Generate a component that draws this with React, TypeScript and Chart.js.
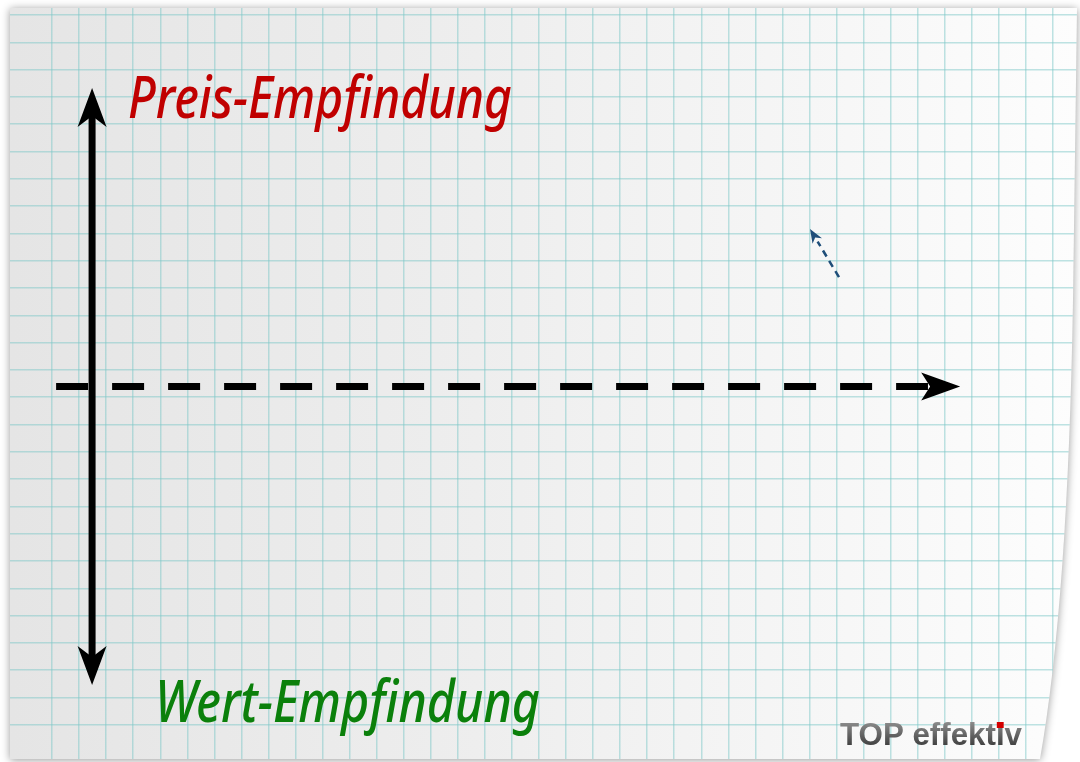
import React, { useEffect, useRef } from "react";
import { Chart, registerables } from "chart.js";

Chart.register(...registerables);

// ---- data (grid units of the squared paper) ----
const shaftX = [2.48, 2.48];
const shaftY = [3.2, 23.5];
const baseLineX = [1.15, 33.38];
const baseLineY = [13.39, 13.39];
const hintX = [30.09, 29.3];
const hintY = [17.4, 18.7];
// arrow tips: [x, y]
const tipUp = [2.48, 24.33];
const tipDown = [2.48, 2.46];
const tipRight = [34.57, 13.39];
const tipHint = [29.02, 19.16];

const labelTop = "Preis-Empfindung";
const labelBottom = "Wert-Empfindung";
const logoText = "TOP effektiv";

// scale windows so that integer grid lines fall on the paper squares
const X_MIN = -0.924;
const X_MAX = 39.0;
const Y_MAX = 27.549;
const Y_MIN = -0.363;

function paperPath(ctx: CanvasRenderingContext2D) {
  ctx.beginPath();
  ctx.moveTo(10, 8);
  ctx.lineTo(1077, 8);
  ctx.lineTo(1073, 300);
  ctx.quadraticCurveTo(1068, 600, 1040, 759);
  ctx.lineTo(10, 759);
  ctx.closePath();
}

const paperPlugin = {
  id: "paper",
  beforeDraw(chart: any) {
    const ctx = chart.ctx as CanvasRenderingContext2D;
    ctx.save();
    ctx.fillStyle = "#ffffff";
    ctx.fillRect(0, 0, chart.width, chart.height);
    paperPath(ctx);
    ctx.shadowColor = "rgba(0,0,0,0.4)";
    ctx.shadowBlur = 9;
    ctx.shadowOffsetY = 1;
    const g = ctx.createLinearGradient(10, 0, 1076, 0);
    g.addColorStop(0, "#e5e5e5");
    g.addColorStop(0.4, "#ededed");
    g.addColorStop(0.75, "#f6f6f6");
    g.addColorStop(1, "#fdfdfd");
    ctx.fillStyle = g;
    ctx.fill();
    ctx.restore();
    ctx.save();
    paperPath(ctx);
    ctx.clip();
  },
  afterDraw(chart: any) {
    chart.ctx.restore();
  },
};

type ArrowSpec = {
  tip: number[];
  from: number[];
  len: number;
  half: number;
  notch: number;
  color: string;
};

const arrows: ArrowSpec[] = [
  { tip: tipUp, from: [shaftX[1], shaftY[1]], len: 39, half: 14.5, notch: 11, color: "#000000" },
  { tip: tipDown, from: [shaftX[0], shaftY[0]], len: 39, half: 14.5, notch: 11, color: "#000000" },
  { tip: tipRight, from: [baseLineX[1], baseLineY[1]], len: 39, half: 14, notch: 9, color: "#000000" },
  { tip: tipHint, from: [hintX[0], hintY[0]], len: 14, half: 5.5, notch: 4, color: "#1f4e79" },
];

const decorPlugin = {
  id: "decor",
  afterDatasetsDraw(chart: any) {
    const ctx = chart.ctx as CanvasRenderingContext2D;
    const xs = chart.scales.x;
    const ys = chart.scales.y;
    ctx.save();
    for (const a of arrows) {
      const tx = xs.getPixelForValue(a.tip[0]);
      const ty = ys.getPixelForValue(a.tip[1]);
      const fx = xs.getPixelForValue(a.from[0]);
      const fy = ys.getPixelForValue(a.from[1]);
      let dx = tx - fx;
      let dy = ty - fy;
      const d = Math.hypot(dx, dy) || 1;
      dx /= d;
      dy /= d;
      const nx = -dy;
      const ny = dx;
      ctx.beginPath();
      ctx.moveTo(tx, ty);
      ctx.lineTo(tx - a.len * dx + a.half * nx, ty - a.len * dy + a.half * ny);
      ctx.lineTo(tx - (a.len - a.notch) * dx, ty - (a.len - a.notch) * dy);
      ctx.lineTo(tx - a.len * dx - a.half * nx, ty - a.len * dy - a.half * ny);
      ctx.closePath();
      ctx.fillStyle = a.color;
      ctx.fill();
    }

    const drawLabel = (text: string, left: number, width: number, base: number, color: string) => {
      ctx.save();
      ctx.font = "italic 500 58px 'Noto Sans'";
      const w = ctx.measureText(text).width;
      ctx.translate(left, base);
      ctx.scale(width / w, 1);
      ctx.fillStyle = color;
      ctx.textBaseline = "alphabetic";
      ctx.textAlign = "left";
      ctx.fillText(text, 0, 0);
      ctx.restore();
    };
    drawLabel(labelTop, 128, 384, 118, "#c00000");
    drawLabel(labelBottom, 155, 385, 722, "#0b800b");

    // logo
    ctx.save();
    ctx.font = "bold 31px 'Liberation Sans'";
    const lw = ctx.measureText(logoText).width;
    const sx = 182 / lw;
    ctx.translate(840, 745);
    ctx.scale(sx, 1);
    const lg = ctx.createLinearGradient(0, -23, 0, 2);
    lg.addColorStop(0, "#8c8c8c");
    lg.addColorStop(1, "#3c3c3c");
    ctx.fillStyle = lg;
    ctx.fillText(logoText, 0, 0);
    const before = ctx.measureText(logoText.slice(0, 10)).width;
    const iw = ctx.measureText("i").width;
    ctx.fillStyle = "#d40000";
    ctx.fillRect(before + iw / 2 - 3.4, -23, 6.8, 6);
    ctx.restore();

    ctx.restore();
  },
};

export default function App() {
  const ref = useRef<HTMLCanvasElement | null>(null);
  useEffect(() => {
    if (!ref.current) return;
    const pts = (xs: number[], ys: number[]) => xs.map((x, i) => ({ x, y: ys[i] }));
    const gridColor = (c: any) =>
      c.tick && Number.isInteger(c.tick.value) ? "rgba(125,200,200,0.5)" : "rgba(0,0,0,0)";
    const chart = new Chart(ref.current, {
      type: "scatter",
      data: {
        datasets: [
          {
            data: pts(shaftX, shaftY),
            showLine: true,
            borderColor: "#000000",
            borderWidth: 7,
            pointRadius: 0,
            borderCapStyle: "butt",
          },
          {
            data: pts(baseLineX, baseLineY),
            showLine: true,
            borderColor: "#000000",
            borderWidth: 7,
            borderDash: [32, 24],
            pointRadius: 0,
            borderCapStyle: "butt",
          },
          {
            data: pts(hintX, hintY),
            showLine: true,
            borderColor: "#1f4e79",
            borderWidth: 2.5,
            borderDash: [7, 5],
            pointRadius: 0,
            borderCapStyle: "butt",
          },
        ],
      },
      options: {
        responsive: false,
        animation: false,
        events: [],
        layout: { padding: 0 },
        plugins: {
          legend: { display: false },
          tooltip: { enabled: false },
          title: { display: false },
        },
        scales: {
          x: {
            type: "linear",
            min: X_MIN,
            max: X_MAX,
            ticks: { display: false, stepSize: 1 },
            grid: { color: gridColor, lineWidth: 1.5, drawTicks: false },
            border: { display: false },
          },
          y: {
            type: "linear",
            min: Y_MIN,
            max: Y_MAX,
            ticks: { display: false, stepSize: 1 },
            grid: { color: gridColor, lineWidth: 1.5, drawTicks: false },
            border: { display: false },
          },
        },
      },
      plugins: [paperPlugin, decorPlugin],
    } as any);
    return () => chart.destroy();
  }, []);
  return (
    <div style={{ position: "absolute", left: 0, top: 0, width: 1080, height: 762, background: "#fff" }}>
      <canvas ref={ref} width={1080} height={762} style={{ display: "block" }} />
    </div>
  );
}
